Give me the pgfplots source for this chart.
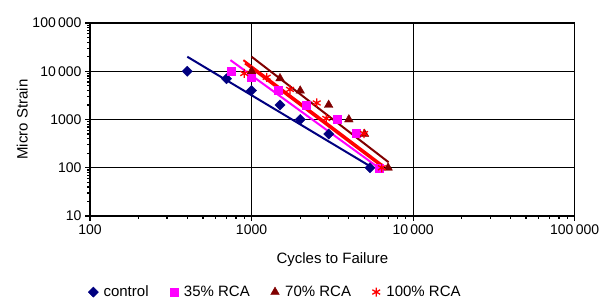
\documentclass[border=0pt]{standalone}
\usepackage{fontspec}
\setmainfont{Liberation Sans}
\usepackage{pgfplots}
\pgfplotsset{compat=1.18}
\definecolor{cnavy}{HTML}{000080}
\definecolor{cmag}{HTML}{FF00FF}
\definecolor{cdred}{HTML}{800000}
\definecolor{cred}{HTML}{FF0000}
\begin{document}
\begin{tikzpicture}
\begin{axis}[
  at={(0,0)}, anchor=south west,
  scale only axis, width=484.7bp, height=193bp,
  xmode=log, ymode=log,
  xmin=100, xmax=100000, ymin=10, ymax=100000,
  xtick={100,1000,10000,100000},
  xticklabels={100,1000,10\,000,100\,000},
  ytick={10,100,1000,10000,100000},
  yticklabels={10,100,1000,10\,000,100\,000},
  minor tick num=0, minor xtick={}, minor ytick={},
  xtick pos=left, ytick pos=left,
  tick align=outside, major tick length=5bp,
  every tick/.style={black, line width=1.2bp},
  grid=major, major grid style={black, line width=1.2bp},
  axis line style={black, line width=1.3bp},
  tick label style={font=\fontsize{14bp}{16bp}\selectfont},
  xlabel={Cycles to Failure}, ylabel={Micro Strain},
  label style={font=\fontsize{15bp}{17bp}\selectfont},
  xlabel style={at={(axis description cs:0.5,-0.228)}, anchor=center},
  ylabel style={at={(axis description cs:-0.140,0.5)}, anchor=center},
  legend columns=4,
  legend style={draw=none, fill=none, at={(axis description cs:-0.0186,-0.394)}, anchor=west,
    font=\fontsize{15bp}{17bp}\selectfont,
    /tikz/every even column/.append style={column sep=14bp}},
  legend image code/.code={\path (0bp,0bp) (17bp,0bp);\draw[#1,mark repeat=2,mark phase=2] plot coordinates {(0bp,0bp)(9bp,0bp)(18bp,0bp)};},
  clip=false,
]
% data points
\addplot[only marks, mark=square*, mark size=3.6bp, mark options={rotate=45}, color=cnavy] coordinates {
 (400,10000) (700,7000) (1000,4000) (1500,2000) (2000,1000) (3000,500) (5400,100)};
\addlegendentry{control}
\addplot[only marks, mark=square*, mark size=4bp, color=cmag] coordinates {
 (750,10000) (1000,7400) (1470,4000) (2170,2000) (3400,1000) (4450,520) (6200,100)};
\addlegendentry{35\% RCA}
\addplot[only marks, mark=triangle*, mark size=5bp, color=cdred] coordinates {
 (1000,10000) (1500,7100) (2000,3950) (3000,2000) (4000,1000) (5000,500) (7000,100)};
\addlegendentry{70\% RCA}
\addplot[only marks, mark=asterisk, mark size=4.5bp, mark options={line width=1.3bp}, color=cred] coordinates {
 (900,9000) (1240,7500) (1730,4200) (2530,2200) (2900,1050) (4970,510) (6400,100)};
\addlegendentry{100\% RCA}
% trend lines
\addplot[forget plot, color=cnavy, line width=2bp] coordinates {(400,20000) (5400,108)};
\addplot[forget plot, color=cmag, line width=2bp] coordinates {(740,17000) (6200,97)};
\addplot[forget plot, color=cdred, line width=2bp] coordinates {(1000,20000) (7050,130)};
\addplot[forget plot, color=cred, line width=2bp] coordinates {(890,17000) (6450,114)};
\addplot[forget plot, color=cred, line width=2bp] coordinates {(910,14500) (6450,104)};
\end{axis}
\pgfresetboundingbox
\useasboundingbox (-90bp,-83bp) rectangle (520bp,216bp);
\end{tikzpicture}
\end{document}
